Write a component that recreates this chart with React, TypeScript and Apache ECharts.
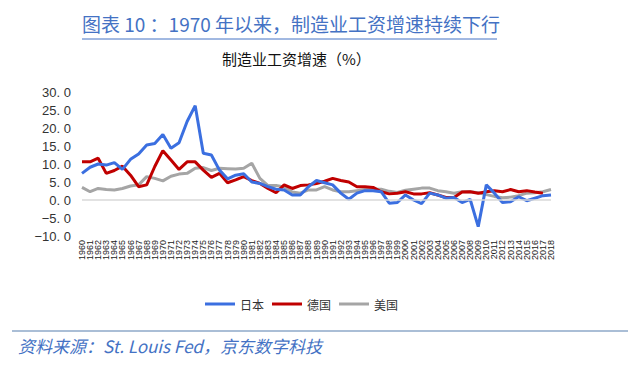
import React, { useEffect, useRef } from "react";
import * as echarts from "echarts";

const years: string[] = [];
for (let y = 1960; y <= 2018; y++) years.push(String(y));

const japan = [
  7.4, 9.1, 10.0, 9.7, 10.4, 8.5, 11.3, 12.8, 15.3, 15.7,
  18.2, 14.4, 15.9, 21.8, 26.2, 13.0, 12.5, 8.3, 5.9, 6.9,
  7.3, 5.0, 4.6, 3.7, 3.0, 2.8, 1.4, 1.4, 3.7, 5.4,
  4.8, 4.2, 1.9, 0.2, 1.9, 2.6, 2.6, 2.3, -0.9, -0.7,
  1.4, 0.0, -1.0, 1.9, 1.4, 0.5, 0.7, -0.7, 0.2, -7.4,
  4.2, 1.9, -0.7, -0.5, 0.9, -0.2, 0.5, 1.2, 1.4,
];

const germany: (number | null)[] = [
  10.6, 10.6, 11.6, 7.4, 8.2, 9.4, 6.9, 3.7, 4.2, 9.3,
  13.7, 11.1, 8.5, 10.6, 10.6, 8.3, 6.3, 7.4, 4.8, 5.6,
  6.5, 5.4, 4.6, 3.2, 2.0, 4.2, 3.2, 4.0, 4.2, 4.6,
  5.2, 6.0, 5.4, 5.0, 3.7, 3.7, 3.5, 2.3, 1.7, 1.9,
  2.3, 1.7, 1.7, 2.0, 1.4, 0.7, 0.7, 2.2, 2.3, 1.9,
  2.3, 2.6, 2.3, 2.9, 2.3, 2.6, 2.2, 1.9, null,
];

const usa = [
  3.5, 2.3, 3.2, 2.9, 2.8, 3.2, 3.9, 4.2, 6.5, 6.0,
  5.3, 6.6, 7.2, 7.4, 8.8, 9.0, 8.2, 8.8, 8.7, 8.6,
  8.8, 10.2, 6.0, 4.0, 4.0, 3.6, 2.2, 1.9, 2.8, 2.8,
  3.7, 2.8, 2.3, 2.3, 2.6, 2.9, 3.0, 3.0, 2.4, 2.1,
  2.7, 3.0, 3.3, 3.3, 2.6, 2.3, 1.9, 2.3, 2.3, 2.0,
  1.5, 1.0, 0.6, 0.8, 1.2, 1.9, 2.0, 2.3, 2.9,
];

const seriesNames = ["日本", "德国", "美国"];
const colors = ["#3B6FE0", "#C00000", "#A5A5A5"];

const titleText = "图表 10 ：1970 年以来，制造业工资增速持续下行";
const subTitleText = "制造业工资增速（%）";
const sourceText = "资料来源：St. Louis Fed，京东数字科技";

export default function App() {
  const ref = useRef<HTMLDivElement>(null);
  useEffect(() => {
    if (!ref.current) return;
    const chart = echarts.init(ref.current, null, { renderer: "svg" });
    const cjk = '"Noto Sans CJK SC", "Noto Sans", sans-serif';
    const lineSeries = (name: string, data: (number | null)[], color: string, extra: any = {}) => ({
      name,
      type: "line",
      data,
      showSymbol: false,
      symbol: "none",
      lineStyle: { color, width: 3 },
      itemStyle: { color },
      z: 3,
      ...extra,
    });
    chart.setOption({
      animation: false,
      backgroundColor: "#ffffff",
      grid: { left: 82, right: 89, top: 92, height: 144 },
      xAxis: {
        type: "category",
        data: years,
        boundaryGap: false,
        axisLine: { show: false },
        axisTick: { show: false },
        axisLabel: {
          interval: 0,
          rotate: 90,
          fontSize: 9,
          color: "#222",
          margin: 4,
          fontFamily: "Liberation Sans, Arial, sans-serif",
        },
        splitLine: { show: false },
      },
      yAxis: {
        type: "value",
        min: -10,
        max: 30,
        interval: 5,
        axisLine: { show: false },
        axisTick: { show: false },
        splitLine: { show: false },
        axisLabel: {
          fontSize: 13,
          color: "#333",
          margin: 11,
          fontFamily: "Liberation Sans, Arial, sans-serif",
          formatter: (v: number) => v.toFixed(1).replace(".", ". ").replace("-", "−"),
        },
      },
      legend: {
        data: seriesNames,
        left: 200,
        top: 293,
        icon: "rect",
        itemWidth: 30,
        itemHeight: 3,
        itemGap: 8,
        textStyle: { fontSize: 12, color: "#333", fontFamily: cjk },
      },
      series: [
        lineSeries(seriesNames[2], usa, colors[2], {
          z: 2,
          markLine: {
            silent: true,
            symbol: "none",
            label: { show: false },
            lineStyle: { color: "#D9D9D9", width: 1.5, type: "solid" },
            data: [{ yAxis: 0 }],
          },
        }),
        lineSeries(seriesNames[1], germany, colors[1], { z: 3 }),
        lineSeries(seriesNames[0], japan, colors[0], { z: 4 }),
      ],
      graphic: [
        {
          type: "text",
          left: 82,
          top: 14,
          style: { text: titleText, fill: "#4472C4", fontSize: 19, fontFamily: cjk },
        },
        {
          type: "line",
          shape: { x1: 82, y1: 39, x2: 497, y2: 39 },
          style: { stroke: "#4472C4", lineWidth: 1 },
        },
        {
          type: "text",
          left: 222,
          top: 51,
          style: { text: subTitleText, fill: "#111", fontSize: 15, fontFamily: cjk },
        },
        {
          type: "line",
          shape: { x1: 12, y1: 331, x2: 628, y2: 331 },
          style: { stroke: "#8EA9C8", lineWidth: 1.5 },
        },
        {
          type: "text",
          left: 18,
          top: 337,
          style: {
            text: sourceText,
            fill: "#4472C4",
            fontSize: 17,
            fontStyle: "italic",
            fontFamily: cjk,
          },
        },
      ],
    });
    return () => chart.dispose();
  }, []);
  return (
    <div
      ref={ref}
      style={{ position: "fixed", left: 0, top: 0, width: 640, height: 368, background: "#fff" }}
    />
  );
}
